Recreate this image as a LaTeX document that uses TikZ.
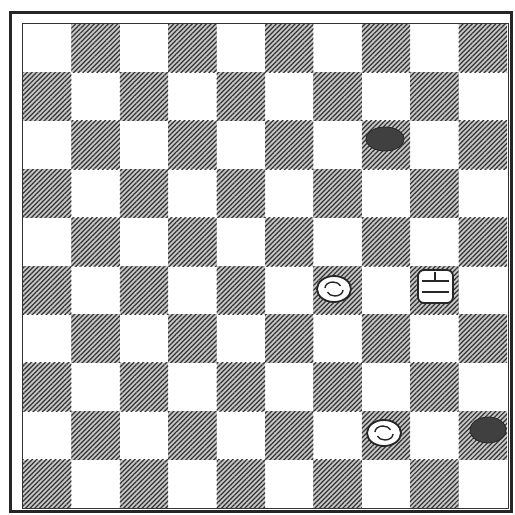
\documentclass[tikz,border=0pt]{standalone}
\usetikzlibrary{patterns.meta}
\begin{document}
\begin{tikzpicture}[x=1pt,y=-1pt,
  darksq/.style={pattern={Lines[angle=45,distance=3.3pt,line width=1.2pt]},pattern color=black!80},
  blackman/.style={fill=black!75,draw=black!85,line width=0.8pt},
  whiteman/.style={fill=white,draw=black!85,line width=1.8pt},
  swirl/.style={line width=1.4pt,black!85}]
\useasboundingbox (0,0) rectangle (515,515);
\fill[white] (0,0) rectangle (515,515);
\def\sq{48.4}
% dark squares
\foreach \r in {0,...,9}{
  \foreach \c in {0,...,9}{
    \pgfmathtruncatemacro{\parity}{mod(\r+\c,2)}
    \ifnum\parity=1
      \fill[black!22] ({23+\sq*\c},{24+\sq*\r}) rectangle ++(\sq,\sq);
      \fill[darksq] ({23+\sq*\c},{24+\sq*\r}) rectangle ++(\sq,\sq);
    \fi
  }
}
% frame
\draw[line width=0.9pt,black!80] (22,23) rectangle (508,508);
\draw[line width=3pt,black!85] (10,12) rectangle (511,511);
% black men
\draw[blackman] (385,139) ellipse (19pt and 12pt);
\draw[blackman] (488,430) ellipse (18pt and 13pt);
% white men
\draw[whiteman] (334,289) ellipse (17pt and 13pt);
\draw[swirl] (325,288) arc (180:20:8pt and 6pt);
\draw[swirl] (343,290) arc (0:-160:8pt and 6pt);
\draw[whiteman] (384,433) ellipse (17pt and 13pt);
\draw[swirl] (375,432) arc (180:20:8pt and 6pt);
\draw[swirl] (393,434) arc (0:-160:8pt and 6pt);
% white king
\draw[whiteman,rounded corners=6pt] (418,270) rectangle (453,303);
\draw[swirl] (422,281) -- (449,281);
\draw[swirl] (422,292) -- (449,292);
\draw[swirl] (435,272) -- (435,281);
\end{tikzpicture}
\end{document}
